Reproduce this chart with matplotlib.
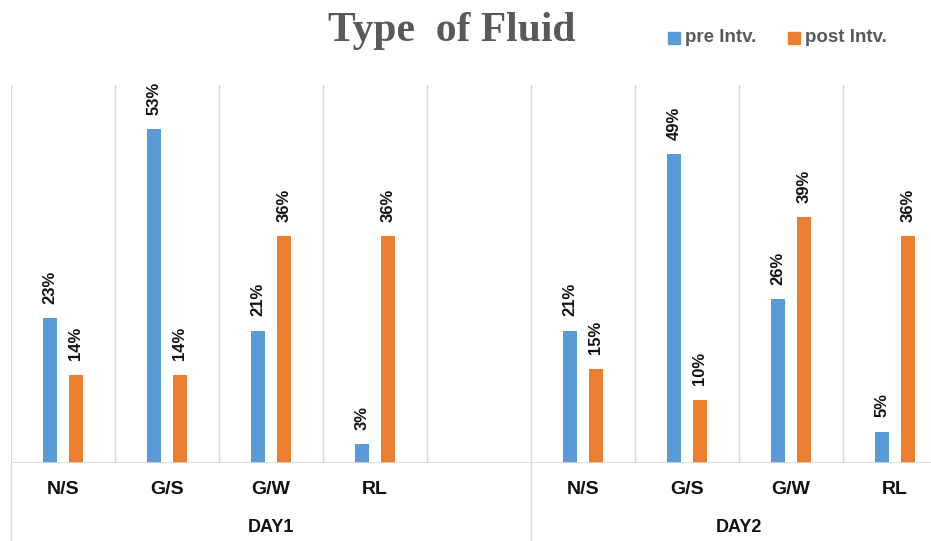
import matplotlib.pyplot as plt
import matplotlib.transforms as mtransforms
from matplotlib.patches import Rectangle

# chart data
categories = ["N/S", "G/S", "G/W", "RL"]
days = ["DAY1", "DAY2"]
day1_pre = [23, 53, 21, 3]
day1_post = [14, 14, 36, 36]
day2_pre = [21, 49, 26, 5]
day2_post = [15, 10, 39, 36]
series_names = ["pre Intv.", "post Intv."]

BLUE = "#5B9BD5"
ORANGE = "#ED7D31"
GRID = "#D9D9D9"

W, H = 931, 541
fig = plt.figure(figsize=(W / 100, H / 100), dpi=100)
ax = fig.add_axes([11 / W, (H - 463) / H, 936 / W, 378 / H])

# positions: day1 at 0..3, empty slot at 4, day2 at 5..8
x1 = list(range(len(categories)))
x2 = [i + len(categories) + 1 for i in range(len(categories))]
bw = 0.135
off = 0.125

def draw(xs, pre, post):
    b1 = ax.bar([x - off for x in xs], pre, bw, color=BLUE, zorder=3)
    b2 = ax.bar([x + off for x in xs], post, bw, color=ORANGE, zorder=3)
    for bars in (b1, b2):
        for b in bars:
            h = b.get_height()
            ax.annotate(f"{h:.0f}%", (b.get_x() + b.get_width() / 2, h),
                        xytext=(0, 10.5), textcoords="offset points",
                        ha="center", va="bottom", rotation=90,
                        fontsize=12, fontweight="bold", color="#111111",
                        family="Liberation Sans")

draw(x1, day1_pre, day1_post)
draw(x2, day2_pre, day2_post)

ax.set_xlim(-0.5, 8.5)
ax.set_ylim(0, 60)
for s in ax.spines.values():
    s.set_visible(False)
ax.set_xticks([])
ax.set_yticks([])

# vertical separators between categories
for i in range(10):
    ax.axvline(i - 0.5, 0, 1, color=GRID, lw=1, zorder=1)
ax.axhline(0, color=GRID, lw=1.2, zorder=4)

# lines extending below the axis for the day groups
trans = mtransforms.blended_transform_factory(ax.transData, ax.transAxes)
for xv in (-0.5, 4.5):
    ax.plot([xv, xv], [0, -78 / 378], transform=trans, color=GRID, lw=1,
            clip_on=False)

for xs in (x1, x2):
    for x, c in zip(xs, categories):
        ax.text(x, -27 / 378, c, transform=trans, ha="center", va="center",
                fontsize=14, fontweight="bold", color="#111111",
                family="Liberation Sans")
for xc, d in zip([2.0, 6.5], days):
    ax.text(xc, -65 / 378, d, transform=trans, ha="center", va="center",
            fontsize=13, fontweight="bold", color="#111111",
            family="Liberation Sans")

# title and legend
fig.text(452 / W, 1 - 41 / H, "Type  of Fluid", ha="center", va="baseline",
         fontsize=30, fontweight="bold", color="#595959",
         family="Liberation Serif")
for xs, col, name in [(668, BLUE, series_names[0]), (788, ORANGE, series_names[1])]:
    fig.patches.append(Rectangle((xs / W, 1 - 44 / H), 12 / W, 12 / H,
                                 transform=fig.transFigure, color=col))
    fig.text((xs + 17) / W, 1 - 38 / H, name, ha="left", va="center",
             fontsize=13.5, fontweight="bold", color="#595959",
             family="Liberation Sans")

fig.savefig("out.png", dpi=100)
